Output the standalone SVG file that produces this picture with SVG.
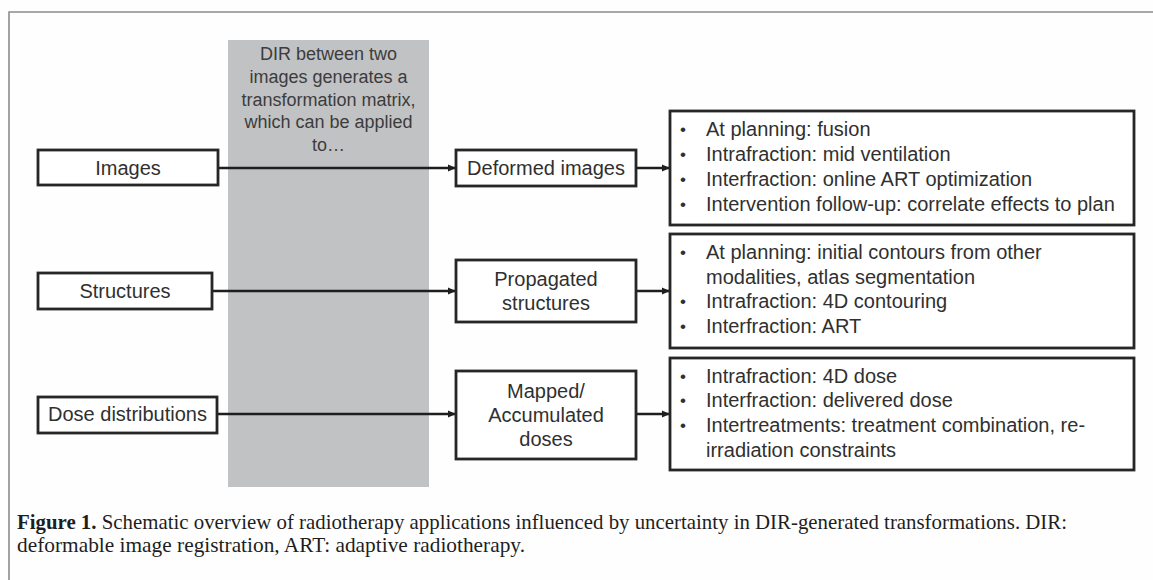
<svg xmlns="http://www.w3.org/2000/svg" width="1153" height="580" viewBox="0 0 1153 580">
<defs>
<style>
.bg{fill:#fefefe}
.frame{stroke:#8c8c8c;stroke-width:1.6;fill:none}
.band{fill:#c1c2c4}
.box{fill:#ffffff;stroke:#262626;stroke-width:2.8}
.lbl{font-family:"Liberation Sans",Arial,sans-serif;font-size:20px;fill:#303030;text-anchor:middle}
.bt{font-family:"Liberation Sans",Arial,sans-serif;font-size:20px;fill:#303030}
.dot{font-family:"Liberation Sans",Arial,sans-serif;font-size:17px;fill:#303030}
.bandtxt{font-family:"Liberation Sans",Arial,sans-serif;font-size:18px;fill:#3c3c3c;text-anchor:middle}
.cap{font-family:"Liberation Serif","Times New Roman",serif;font-size:21px;fill:#1e1e1e}
.conn line{stroke:#1e1e1e;stroke-width:2.3;fill:none}
</style>
<marker id="ah" markerUnits="userSpaceOnUse" markerWidth="9" markerHeight="8" refX="8" refY="4" orient="auto">
<path d="M0,0.5 L8,4 L0,7.5 z" fill="#1e1e1e"/>
</marker>
</defs>
<rect class="bg" x="0" y="0" width="1153" height="580"/>
<path class="frame" d="M9,580 L9,12 L1153,12"/>
<g id="band">
<rect class="band" x="228" y="40" width="201" height="447"/>
<text class="bandtxt" x="328.5" y="60">DIR between two</text>
<text class="bandtxt" x="328.5" y="83">images generates a</text>
<text class="bandtxt" x="328.5" y="105.5">transformation matrix,</text>
<text class="bandtxt" x="328.5" y="128">which can be applied</text>
<text class="bandtxt" x="328.5" y="150.5">to…</text>
</g>
<g class="conn" id="connectors">
<line x1="218" y1="168" x2="456" y2="168" marker-end="url(#ah)"/>
<line x1="636" y1="168" x2="670" y2="168" marker-end="url(#ah)"/>
<line x1="212" y1="291" x2="456" y2="291" marker-end="url(#ah)"/>
<line x1="636" y1="291" x2="670" y2="291" marker-end="url(#ah)"/>
<line x1="217" y1="414" x2="456" y2="414" marker-end="url(#ah)"/>
<line x1="636" y1="414" x2="670" y2="414" marker-end="url(#ah)"/>
</g>
<g id="images">
<rect class="box" x="38" y="150" width="180" height="35"/>
<text class="lbl" x="128" y="175">Images</text>
</g>
<g id="structures">
<rect class="box" x="38" y="273" width="174" height="36"/>
<text class="lbl" x="125" y="298">Structures</text>
</g>
<g id="dose">
<rect class="box" x="38" y="397" width="179" height="36"/>
<text class="lbl" x="127.5" y="421">Dose distributions</text>
</g>
<g id="deformed">
<rect class="box" x="456" y="150" width="180" height="36"/>
<text class="lbl" x="546" y="175">Deformed images</text>
</g>
<g id="propagated">
<rect class="box" x="456" y="260" width="180" height="62"/>
<text class="lbl" x="546" y="286">Propagated</text>
<text class="lbl" x="546" y="310">structures</text>
</g>
<g id="mapped">
<rect class="box" x="456" y="371" width="180" height="88"/>
<text class="lbl" x="546" y="398">Mapped/</text>
<text class="lbl" x="546" y="422">Accumulated</text>
<text class="lbl" x="546" y="446">doses</text>
</g>
<g id="apps-images">
<rect class="box" x="670" y="111" width="464" height="114"/>
<text class="dot" x="680" y="135">•</text><text class="bt" x="706" y="136">At planning: fusion</text>
<text class="dot" x="680" y="160">•</text><text class="bt" x="706" y="161">Intrafraction: mid ventilation</text>
<text class="dot" x="680" y="185">•</text><text class="bt" x="706" y="186">Interfraction: online ART optimization</text>
<text class="dot" x="680" y="210">•</text><text class="bt" x="706" y="211">Intervention follow-up: correlate effects to plan</text>
</g>
<g id="apps-structures">
<rect class="box" x="670" y="234" width="464" height="114"/>
<text class="dot" x="680" y="258">•</text><text class="bt" x="706" y="259">At planning: initial contours from other</text>
<text class="bt" x="706" y="284">modalities, atlas segmentation</text>
<text class="dot" x="680" y="307">•</text><text class="bt" x="706" y="308">Intrafraction: 4D contouring</text>
<text class="dot" x="680" y="332">•</text><text class="bt" x="706" y="333">Interfraction: ART</text>
</g>
<g id="apps-doses">
<rect class="box" x="670" y="358" width="464" height="112"/>
<text class="dot" x="680" y="382">•</text><text class="bt" x="706" y="383">Intrafraction: 4D dose</text>
<text class="dot" x="680" y="406">•</text><text class="bt" x="706" y="407">Interfraction: delivered dose</text>
<text class="dot" x="680" y="431">•</text><text class="bt" x="706" y="432">Intertreatments: treatment combination, re-</text>
<text class="bt" x="706" y="457">irradiation constraints</text>
</g>
<g id="caption">
<text class="cap" x="17" y="529" textLength="1050" lengthAdjust="spacingAndGlyphs"><tspan font-weight="bold">Figure 1.</tspan> Schematic overview of radiotherapy applications influenced by uncertainty in DIR-generated transformations. DIR:</text>
<text class="cap" x="17" y="552" textLength="508" lengthAdjust="spacingAndGlyphs">deformable image registration, ART: adaptive radiotherapy.</text>
</g>
</svg>
